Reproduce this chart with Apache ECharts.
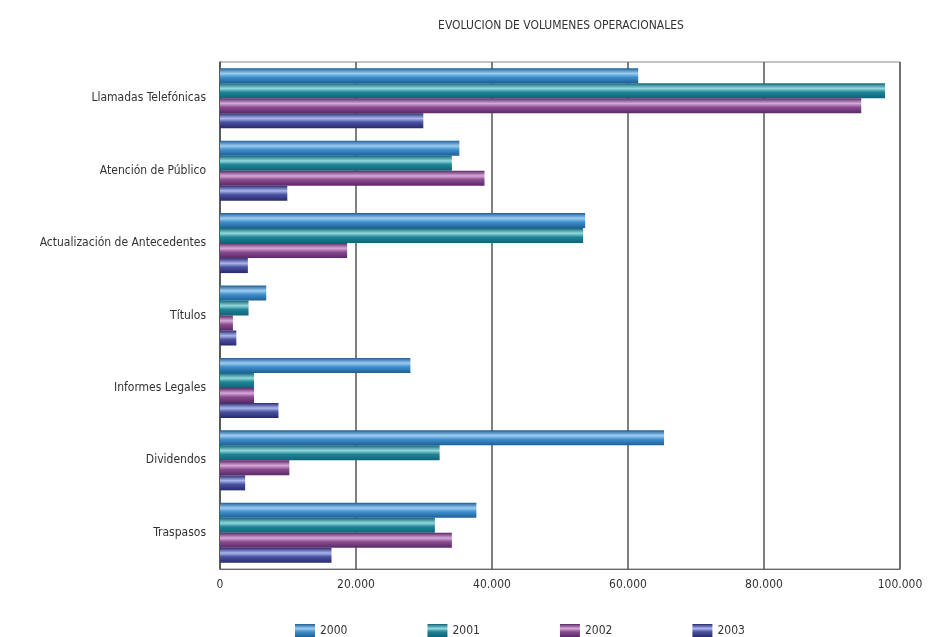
<!DOCTYPE html>
<html>
<head>
<meta charset="utf-8">
<script src="https://cdn.jsdelivr.net/npm/echarts@6/dist/echarts.min.js"></script>
<style>
  html, body { margin: 0; padding: 0; background: #fff; }
  #chart { width: 928px; height: 637px; }
</style>
</head>
<body>
<div id="chart"></div>
<script>
// categorias (de arriba hacia abajo)
var categories = ['Llamadas Telefónicas', 'Atención de Público', 'Actualización de Antecedentes',
  'Títulos', 'Informes Legales', 'Dividendos', 'Traspasos'];
var years = ['2000', '2001', '2002', '2003'];
// valores
var v2000 = [61500, 35200, 53700, 6800, 28000, 65300, 37700];
var v2001 = [97800, 34100, 53400, 4200, 5000, 32300, 31600];
var v2002 = [94300, 38900, 18700, 1900, 5000, 10200, 34100];
var v2003 = [29900, 9900, 4100, 2400, 8600, 3700, 16400];
var xTicks = [0, 20000, 40000, 60000, 80000, 100000];

var font = "'Liberation Sans Narrow', 'DejaVu Sans Condensed', 'Liberation Sans', sans-serif";

// barras con efecto de cilindro: borde oscuro, franja clara al medio
function tube(dark, light, mid) {
  return new echarts.graphic.LinearGradient(0, 0, 0, 1, [
    {offset: 0, color: dark},
    {offset: 0.35, color: light},
    {offset: 0.6, color: mid},
    {offset: 1, color: dark}
  ]);
}
var colors = [
  tube('#1d5f96', '#9dcdf2', '#3f8fcc'),
  tube('#0e6478', '#93d8dc', '#1f8496'),
  tube('#5a2866', '#d8a8d8', '#8a4c90'),
  tube('#29296f', '#aab6ee', '#4a52a0')
];
var seriesData = [v2000, v2001, v2002, v2003];

function fmt(v) {
  return String(v).replace(/\B(?=(\d{3})+(?!\d))/g, '.');
}

var chart = echarts.init(document.getElementById('chart'));
var option = {
  animation: false,
  backgroundColor: '#fff',
  title: {
    text: 'EVOLUCION DE VOLUMENES OPERACIONALES',
    left: 556,
    top: 15,
    textAlign: 'center',
    textStyle: {fontFamily: font, fontSize: 12, fontWeight: 'normal', color: '#333'}
  },
  legend: {
    data: years,
    left: 290,
    top: 619,
    itemWidth: 20,
    itemHeight: 13,
    itemGap: 80,
    icon: 'rect',
    textStyle: {fontFamily: font, fontSize: 12, color: '#333'}
  },
  grid: {
    left: 220, right: 28, top: 62, bottom: 68,
    show: true, borderColor: '#888', borderWidth: 1
  },
  xAxis: {
    type: 'value',
    min: xTicks[0],
    max: xTicks[xTicks.length - 1],
    interval: 20000,
    axisLine: {show: true, lineStyle: {color: '#666'}},
    axisTick: {show: false},
    splitLine: {show: true, lineStyle: {color: '#555', width: 1.5}},
    axisLabel: {
      margin: 10,
      fontFamily: font, fontSize: 12, color: '#333',
      formatter: fmt
    }
  },
  yAxis: {
    type: 'category',
    data: categories,
    inverse: true,
    axisLine: {show: true, lineStyle: {color: '#555', width: 1.5}},
    axisTick: {show: false},
    axisLabel: {margin: 14, fontFamily: font, fontSize: 12, color: '#333'}
  },
  series: years.map(function (y, i) {
    return {
      name: y,
      type: 'bar',
      data: seriesData[i],
      barWidth: 15,
      barGap: '0%',
      itemStyle: {color: colors[i]}
    };
  })
};
chart.setOption(option);
</script>
</body>
</html>
